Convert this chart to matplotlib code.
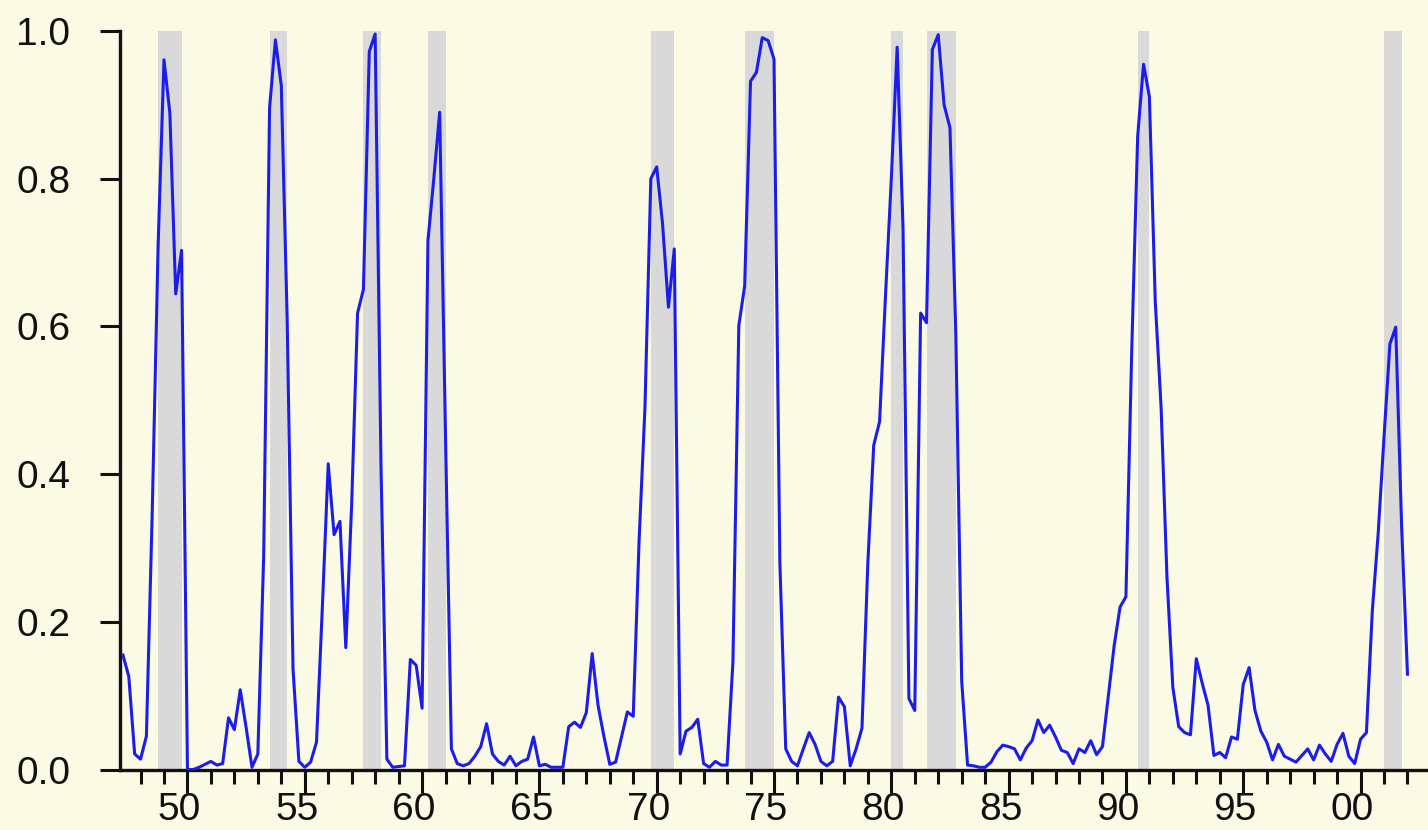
import matplotlib
matplotlib.use("Agg")
import matplotlib.pyplot as plt
import matplotlib.transforms as mtransforms
import numpy as np

plt.rcParams['font.family'] = ['Liberation Sans', 'DejaVu Sans']

# quarterly probability of recession, 1947Q2 .. 2002Q1
start_year = 1947.25
prob = [
    0.155, 0.126, 0.021, 0.014, 0.045, 0.35, 0.71, 0.961, 0.889, 0.644,
    0.703, 0.000, 0.000, 0.003, 0.007, 0.011, 0.006, 0.008, 0.070, 0.054,
    0.108, 0.057, 0.003, 0.021, 0.29, 0.896, 0.988, 0.926, 0.61, 0.136,
    0.011, 0.003, 0.010, 0.037, 0.22, 0.414, 0.318, 0.336, 0.165, 0.36,
    0.618, 0.650, 0.972, 0.996, 0.41, 0.014, 0.003, 0.004, 0.005, 0.149,
    0.141, 0.083, 0.716, 0.80, 0.89, 0.45, 0.028, 0.008, 0.005, 0.008,
    0.018, 0.031, 0.062, 0.021, 0.011, 0.006, 0.018, 0.005, 0.011, 0.014,
    0.044, 0.005, 0.007, 0.003, 0.003, 0.003, 0.058, 0.064, 0.057, 0.077,
    0.157, 0.087, 0.045, 0.007, 0.010, 0.044, 0.078, 0.072, 0.31, 0.49,
    0.80, 0.816, 0.739, 0.626, 0.705, 0.021, 0.052, 0.057, 0.068, 0.008,
    0.003, 0.011, 0.006, 0.006, 0.146, 0.601, 0.655, 0.932, 0.944, 0.991,
    0.987, 0.962, 0.28, 0.028, 0.011, 0.005, 0.028, 0.050, 0.034, 0.011,
    0.005, 0.011, 0.098, 0.085, 0.005, 0.028, 0.056, 0.28, 0.439, 0.471,
    0.64, 0.80, 0.978, 0.733, 0.096, 0.080, 0.618, 0.605, 0.975, 0.995,
    0.900, 0.869, 0.59, 0.12, 0.006, 0.005, 0.003, 0.003, 0.010, 0.024,
    0.033, 0.031, 0.028, 0.013, 0.029, 0.039, 0.067, 0.050, 0.060, 0.044,
    0.026, 0.023, 0.008, 0.028, 0.023, 0.039, 0.020, 0.031, 0.10, 0.168,
    0.22, 0.234, 0.57, 0.857, 0.955, 0.911, 0.634, 0.49, 0.26, 0.111,
    0.058, 0.050, 0.047, 0.150, 0.117, 0.087, 0.019, 0.023, 0.016, 0.044,
    0.041, 0.115, 0.138, 0.080, 0.052, 0.037, 0.013, 0.034, 0.018, 0.014,
    0.010, 0.019, 0.028, 0.013, 0.033, 0.021, 0.011, 0.034, 0.049, 0.018,
    0.008, 0.041, 0.050, 0.214, 0.319, 0.45, 0.576, 0.599, 0.33, 0.129,
]

# NBER recessions (peak quarter, trough quarter) as year fractions
rec_start = [1948.75, 1953.5, 1957.5, 1960.25, 1969.75, 1973.75, 1980.0, 1981.5, 1990.5, 2001.0]
rec_end = [1949.75, 1954.25, 1958.25, 1961.0, 1970.75, 1975.0, 1980.5, 1982.75, 1991.0, 2001.75]

major_years = list(range(1950, 2001, 5))
major_labels = ['50', '55', '60', '65', '70', '75', '80', '85', '90', '95', '00']
y_ticks = [0.0, 0.2, 0.4, 0.6, 0.8, 1.0]

t = start_year + 0.25 * np.arange(len(prob))

bg = '#FAFAE5'
fig = plt.figure(figsize=(14.28, 8.30), dpi=100, facecolor=bg)
ax = fig.add_axes([120 / 1428, 60.5 / 830, 1 - 120 / 1428, (769.5 - 31) / 830])
ax.set_facecolor(bg)

for s, e in zip(rec_start, rec_end):
    ax.axvspan(s, e, color='#D9D9D9', lw=0, zorder=1)

ax.plot(t, prob, color='#1C1CEC', lw=2.2, zorder=3)

ax.set_xlim(1947.125, 2002.875)
ax.set_ylim(0, 1)

for side in ['top', 'right']:
    ax.spines[side].set_visible(False)
for side in ['left', 'bottom']:
    ax.spines[side].set_linewidth(2.4)
    ax.spines[side].set_color('#111111')

ax.set_xticks(major_years)
ax.set_xticklabels(major_labels)
ax.set_xticks(range(1948, 2003), minor=True)
ax.set_yticks(y_ticks)
ax.set_yticklabels(['%.1f' % v for v in y_ticks])

ax.tick_params(axis='x', which='major', length=16.5, width=2.2, direction='out',
               labelsize=28, pad=0, color='#111111', labelcolor='#111111')
ax.tick_params(axis='x', which='minor', length=10, width=2.2, direction='out', color='#111111')
ax.tick_params(axis='y', which='major', length=14.4, width=2.2, direction='out',
               labelsize=28, pad=21.5, color='#111111', labelcolor='#111111')

shift = mtransforms.ScaledTranslation(-8 / 100, 0, fig.dpi_scale_trans)
for lab in ax.get_xticklabels():
    lab.set_transform(lab.get_transform() + shift)

fig.savefig('out.png', dpi=100, facecolor=bg)
